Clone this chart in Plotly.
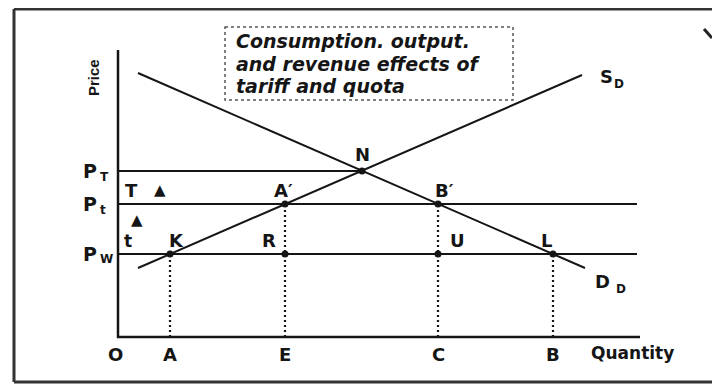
import plotly.graph_objects as go

# ---- data (arbitrary units) ----
demand_x = [2.0, 46.7]
demand_y = [26.4, 6.9]
supply_x = [2.0, 46.4]
supply_y = [6.9, 26.2]

price_main = ["P", "P", "P"]
price_subs = ["T", "t", "W"]
price_values = [16.6, 13.3, 8.3]
price_line_end = [24.4, 51.9, 51.9]

qty_labels = ["A", "E", "C", "B"]
qty_values = [5.2, 16.7, 32.0, 43.5]
qty_top = [8.3, 13.3, 13.3, 8.3]

point_labels = ["K", "R", "A\u2032", "B\u2032", "U", "L", "N"]
point_x = [5.2, 16.7, 16.7, 32.0, 32.0, 43.5, 24.4]
point_y = [8.3, 8.3, 13.3, 13.3, 8.3, 8.3, 16.6]

title_lines = ["Consumption. output.", "and revenue effects of", "tariff and quota"]

axis_x_end = 52.2
axis_y_end = 28.7

INK = "#151515"
FONT = "DejaVu Sans, Liberation Sans, Arial, sans-serif"


def pg(X, Y):
    """page pixel -> data coordinates (for placing texts/frames)"""
    return (X - 118) / 10.0, (337 - Y) / 10.0


fig = go.Figure()

# axes
fig.add_trace(go.Scatter(x=[0, 0, axis_x_end], y=[axis_y_end, 0, 0], mode="lines",
                         line=dict(color=INK, width=2.5), hoverinfo="skip"))
# price lines
for pv, pe in zip(price_values, price_line_end):
    fig.add_trace(go.Scatter(x=[0, pe], y=[pv, pv], mode="lines",
                             line=dict(color=INK, width=2), hoverinfo="skip"))
# demand & supply
fig.add_trace(go.Scatter(x=demand_x, y=demand_y, mode="lines",
                         line=dict(color=INK, width=2), hoverinfo="skip"))
fig.add_trace(go.Scatter(x=supply_x, y=supply_y, mode="lines",
                         line=dict(color=INK, width=2), hoverinfo="skip"))
# dotted verticals
for qv, qt in zip(qty_values, qty_top):
    fig.add_trace(go.Scatter(x=[qv, qv], y=[0, qt], mode="lines",
                             line=dict(color=INK, width=2.2, dash="2px,3px"), hoverinfo="skip"))
# points
fig.add_trace(go.Scatter(x=point_x, y=point_y, mode="markers",
                         marker=dict(color=INK, size=7), hoverinfo="skip"))

ann = []


def txt(x, y, t, size=18, family=FONT, weight="bold", style="normal", **kw):
    d = dict(x=x, y=y, text=t, showarrow=False,
             font=dict(family=family, size=size, color=INK, weight=weight, style=style),
             xanchor="center", yanchor="middle")
    d.update(kw)
    ann.append(d)


# point labels
offsets = {"K": (0.6, 1.4), "R": (-1.6, 1.4), "A\u2032": (-0.2, 1.4), "B\u2032": (0.6, 1.4),
           "U": (1.9, 1.4), "L": (-0.7, 1.4), "N": (0.0, 1.7)}
for lab, px, py in zip(point_labels, point_x, point_y):
    dx, dy = offsets[lab]
    txt(px + dx, py + dy, lab, size=18)

# price labels (main letter + subscript as separate texts)
sub_dy = {"T": -0.6, "t": -0.6, "W": -0.5}
for m, s, pv in zip(price_main, price_subs, price_values):
    txt(pg(90, 0)[0], pv + 0.05, m, size=19)
    txt(pg(98, 0)[0], pv + sub_dy[s], s, size=12, xanchor="left")

# quantity labels
txt(*pg(115, 354), "O", size=18)
for lab, qv in zip(qty_labels, qty_values):
    txt(qv, pg(0, 354)[1], lab, size=18)
txt(*pg(632, 353), "Quantity", size=17)

# axis title and curve labels
txt(*pg(93, 78), "Price", size=15, family="Liberation Sans, Arial, sans-serif", textangle=-90)
txt(*pg(606, 76), "S", size=18)
txt(*pg(619, 84), "D", size=12)
txt(*pg(602, 281), "D", size=18)
txt(*pg(621, 289), "D", size=12)

# tariff markers
txt(*pg(131, 190), "T", size=18)
txt(*pg(160, 190), "\u25B2", size=15)
txt(*pg(137, 220), "\u25B2", size=15)
txt(*pg(128, 241), "t", size=17)

# title box text (one annotation per line)
for i, line in enumerate(title_lines):
    txt(*pg(234, 41 + i * 22.5), line, size=19, weight="bold", style="italic",
        xanchor="left", align="left")

bx0, by0 = pg(225, 27)
bx1, by1 = pg(513, 100)
fx0, fy0 = pg(14, 9)
fx1, fy1 = pg(722, 382)
sx0, sy0 = pg(704, 29)
sx1, sy1 = pg(712, 38)
shapes = [
    dict(type="rect", x0=bx0, x1=bx1, y0=by0, y1=by1, xref="x", yref="y",
         line=dict(color="#555", width=1.5, dash="dot")),
    # outer frame
    dict(type="line", x0=fx0, x1=fx1, y0=fy0, y1=fy0, xref="x", yref="y",
         line=dict(color="#333", width=3)),
    dict(type="line", x0=fx0, x1=fx0, y0=fy0, y1=fy1, xref="x", yref="y",
         line=dict(color="#333", width=3)),
    dict(type="line", x0=fx0, x1=fx1, y0=fy1, y1=fy1, xref="x", yref="y",
         line=dict(color="#333", width=3)),
    # small speck at top right
    dict(type="line", x0=sx0, x1=sx1, y0=sy0, y1=sy1, xref="x", yref="y",
         line=dict(color="#222", width=3)),
]

# page is offset by the browser's 8px body margin: plot spans page px 8..720, 8..385
xr0, yr1 = pg(8, 8)
xr1, yr0 = pg(720, 385)

fig.update_layout(
    width=712, height=377,
    margin=dict(l=0, r=0, t=0, b=0),
    paper_bgcolor="white", plot_bgcolor="white",
    showlegend=False,
    xaxis=dict(range=[xr0, xr1], visible=False, fixedrange=True),
    yaxis=dict(range=[yr0, yr1], visible=False, fixedrange=True),
    annotations=ann, shapes=shapes,
)

fig.write_html("out.html")
